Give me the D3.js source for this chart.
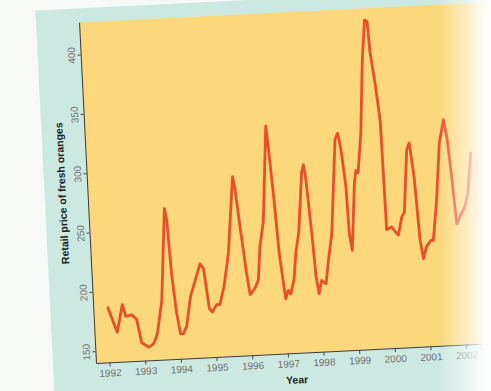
<!DOCTYPE html>
<html>
<head>
<meta charset="utf-8">
<script src="https://cdn.jsdelivr.net/npm/d3@7"></script>
<style>
  html, body { margin: 0; padding: 0; background: #f7f9f6; }
  svg { display: block; }
</style>
</head>
<body>
<div id="chart"></div>
<script>
// Decimal year of each traced vertex and the retail price of fresh oranges there
const dates = [1992.03,1992.26,1992.44,1992.52,1992.69,1992.82,1992.93,1993.13,1993.27,1993.38,
  1993.55,1993.75,1993.80,1993.86,1993.95,1994.03,1994.11,1994.21,1994.36,1994.45,
  1994.67,1994.76,1994.87,1994.95,1995.08,1995.17,1995.31,1995.48,1995.70,1995.75,
  1995.84,1995.96,1996.03,1996.17,1996.28,1996.37,1996.50,1996.70,1996.74,1996.82,
  1996.90,1997.02,1997.10,1997.17,1997.28,1997.37,1997.48,1997.64,1997.70,1997.75,
  1997.84,1997.90,1997.96,1998.05,1998.17,1998.27,1998.40,1998.62,1998.70,1998.77,
  1998.86,1998.89,1998.95,1999.10,1999.16,1999.22,1999.35,1999.49,1999.61,1999.68,
  1999.72,1999.82,1999.91,1999.94,2000.08,2000.20,2000.26,2000.38,2000.46,2000.61,
  2000.69,2000.78,2000.86,2000.93,2001.03,2001.16,2001.23,2001.38,2001.53,2001.68,
  2001.76,2001.83,2001.91,2002.01,2002.16,2002.26,2002.40];
const prices = [186,165,188,178,179,175,155,151,154,162,
  190,267,257,212,178,161,161,167,192,200,
  219,215,181,178,184,184,199,227,291,281,
  249,209,191,196,203,231,252,332,315,275,
  225,186,193,190,202,225,242,292,298,285,
  240,203,189,200,197,217,239,318,323,310,
  278,238,224,280,291,289,322,382,417,416,
  390,363,332,240,242,237,235,250,254,306,
  312,283,230,214,224,229,229,263,310,330,
  313,282,242,248,256,267,301];
const yearTicks = [1992,1993,1994,1995,1996,1997,1998,1999,2000,2001,2002];
const priceTicks = [150,200,250,300,350,400];
const xTitle = "Year";
const yTitle = "Retail price of fresh oranges";

const W = 491, H = 391;
const plotW = 385, plotH = 341;

const svg = d3.select("#chart").append("svg")
  .attr("width", W).attr("height", H);

const defs = svg.append("defs");
const fade = defs.append("linearGradient").attr("id", "fade")
  .attr("gradientUnits", "userSpaceOnUse")
  .attr("x1", 438).attr("y1", 0).attr("x2", 486).attr("y2", 0);
fade.append("stop").attr("offset", 0).attr("stop-color", "#ffffff").attr("stop-opacity", 0);
fade.append("stop").attr("offset", 0.5).attr("stop-color", "#ffffff").attr("stop-opacity", 0.45);
fade.append("stop").attr("offset", 1).attr("stop-color", "#ffffff").attr("stop-opacity", 0.96);

// Page photographed slightly rotated
const g = svg.append("g").attr("transform", "translate(96,363) rotate(-2.85)");

g.append("rect").attr("x", -43).attr("y", -355).attr("width", 620).attr("height", 500)
  .attr("fill", "#cce9e1");
g.append("rect").attr("x", 0).attr("y", -plotH).attr("width", 420).attr("height", plotH)
  .attr("fill", "#fcd77b");

const x = d3.scaleLinear().domain([1991.622, 1991.622 + plotW / 35.7]).range([0, plotW]);
const y = d3.scaleLinear().domain([140, 140 + plotH / 1.188]).range([0, -plotH]);

const line = d3.line().x((d, i) => x(dates[i])).y(d => y(d));
g.append("path").datum(prices)
  .attr("d", line)
  .attr("fill", "none")
  .attr("stroke", "#ea4f29")
  .attr("stroke-width", 2.8)
  .attr("stroke-linejoin", "round")
  .attr("stroke-linecap", "round");

const xAxis = g.append("g")
  .call(d3.axisBottom(x).tickValues(yearTicks).tickFormat(d3.format("d")).tickSizeInner(4).tickSizeOuter(0));
const yAxis = g.append("g")
  .call(d3.axisLeft(y).tickValues(priceTicks).tickSizeInner(3).tickSizeOuter(0));

[xAxis, yAxis].forEach(ax => {
  ax.select(".domain").attr("stroke", "#3a3a3a").attr("stroke-width", 1);
  ax.selectAll(".tick line").attr("stroke", "#4a4a4a");
  ax.selectAll(".tick text")
    .attr("fill", "#707070")
    .attr("font-family", "'Liberation Sans', Arial, sans-serif")
    .attr("font-size", 10);
});
xAxis.selectAll(".tick text").attr("y", 7).attr("dy", "0.71em");
yAxis.selectAll(".tick text")
  .attr("x", 0).attr("y", -9).attr("dy", null)
  .attr("transform", "rotate(-90)")
  .attr("text-anchor", "middle")
  .attr("dominant-baseline", "central");

g.append("text")
  .attr("x", 200).attr("y", 30.5)
  .attr("text-anchor", "middle")
  .attr("font-family", "'Liberation Sans', Arial, sans-serif")
  .attr("font-weight", "bold").attr("font-size", 10.5)
  .attr("fill", "#222")
  .text(xTitle);

g.append("text")
  .attr("transform", "translate(-25.8,-171.2) rotate(-90)")
  .attr("text-anchor", "middle")
  .attr("dominant-baseline", "central")
  .attr("font-family", "'Liberation Sans', Arial, sans-serif")
  .attr("font-weight", "bold").attr("font-size", 10.5)
  .attr("fill", "#222")
  .text(yTitle);

// lighting fade on the right side of the photographed page
svg.append("rect").attr("x", 0).attr("y", 0).attr("width", W).attr("height", H)
  .attr("fill", "url(#fade)").attr("pointer-events", "none");
</script>
</body>
</html>
